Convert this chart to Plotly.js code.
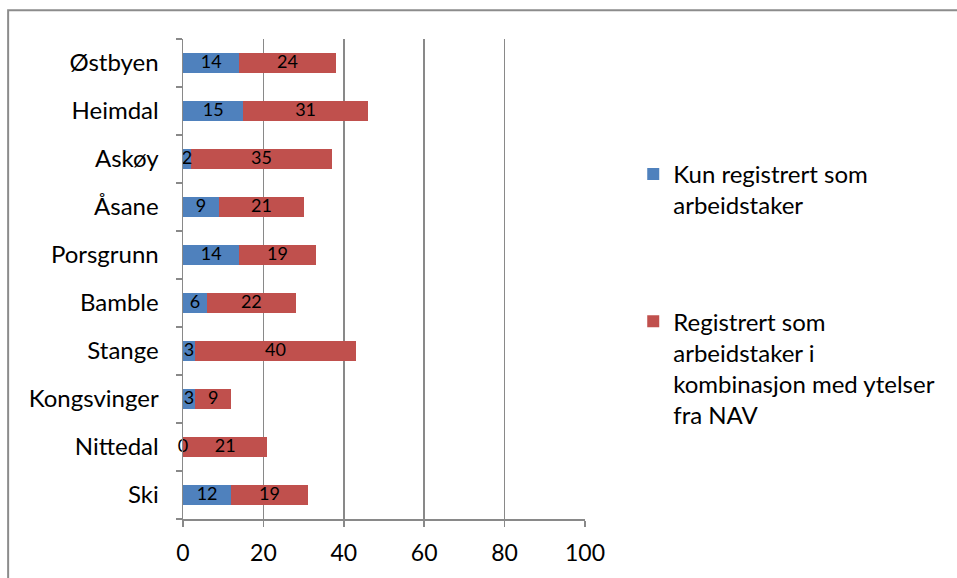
<!DOCTYPE html>
<html>
<head>
<meta charset="utf-8">
<script src="https://cdn.plot.ly/plotly-3.0.1.min.js"></script>
<style>
  html, body { margin: 0; padding: 0; background: #ffffff; }
  #chart { width: 957px; height: 578px; }
</style>
</head>
<body>
<div id="chart"></div>
<script>
// Municipalities, bottom to top
const kommuner = ['Ski', 'Nittedal', 'Kongsvinger', 'Stange', 'Bamble', 'Porsgrunn', 'Åsane', 'Askøy', 'Heimdal', 'Østbyen'];

// Only registered as employee
const kunArbeidstaker = [12, 0, 3, 3, 6, 14, 9, 2, 15, 14];

// Registered as employee combined with NAV benefits
const medYtelser = [19, 21, 9, 40, 22, 19, 21, 35, 31, 24];

const serieNavn = [
  'Kun registrert som<br>arbeidstaker',
  'Registrert som<br>arbeidstaker i<br>kombinasjon med ytelser<br>fra NAV'
];

const xTicks = [0, 20, 40, 60, 80, 100];

const FONT = 'Lato, "Open Sans", sans-serif';
const GREY = '#898989';

// Value labels sit in the middle of each segment
const labelX = [];
const labelY = [];
const labelText = [];
kommuner.forEach((k, i) => {
  labelX.push(kunArbeidstaker[i] / 2);
  labelY.push(k);
  labelText.push(String(kunArbeidstaker[i]));
  labelX.push(kunArbeidstaker[i] + medYtelser[i] / 2);
  labelY.push(k);
  labelText.push(String(medYtelser[i]));
});

const traces = [
  {
    type: 'bar', orientation: 'h',
    y: kommuner, x: kunArbeidstaker,
    name: serieNavn[0], legendgroup: 'a',
    marker: { color: '#4F81BD' },
    hoverinfo: 'skip'
  },
  {
    type: 'bar', orientation: 'h',
    y: kommuner, x: medYtelser,
    name: serieNavn[1], legendgroup: 'b',
    marker: { color: '#C0504D' },
    hoverinfo: 'skip'
  },
  {
    type: 'scatter', mode: 'text',
    x: labelX, y: labelY, text: labelText,
    textposition: 'middle center',
    textfont: { family: FONT, size: 18, color: '#000000' },
    showlegend: false, hoverinfo: 'skip', cliponaxis: false
  }
];

const layout = {
  width: 957, height: 578,
  margin: { l: 183, r: 372, t: 39, b: 59, pad: 0 },
  paper_bgcolor: '#ffffff', plot_bgcolor: '#ffffff',
  barmode: 'stack', bargap: 0.6,
  font: { family: FONT, size: 24, color: '#000000' },
  xaxis: {
    range: [0, 100], tickvals: xTicks, ticktext: xTicks.map(String),
    showgrid: true, gridcolor: GREY, gridwidth: 1.5,
    showline: true, linecolor: GREY, linewidth: 1.5,
    ticks: 'outside', ticklen: 6, tickcolor: GREY, tickwidth: 1.5,
    zeroline: false, fixedrange: true,
    tickfont: { family: FONT, size: 23, color: '#000000' },
    ticklabelstandoff: 7
  },
  yaxis: {
    type: 'category', categoryorder: 'array', categoryarray: kommuner,
    showgrid: false, showline: true, linecolor: GREY, linewidth: 1.5,
    ticks: 'outside', tickson: 'boundaries', ticklen: 6, tickcolor: GREY, tickwidth: 1.5,
    zeroline: false, fixedrange: true,
    tickfont: { family: FONT, size: 24, color: '#000000' },
    ticklabelstandoff: 18
  },
  legend: {
    x: 1.12, xanchor: 'left', y: 0.765, yanchor: 'top',
    traceorder: 'grouped', tracegroupgap: 82, valign: 'top',
    font: { family: FONT, size: 24, color: '#000000' },
    bgcolor: 'rgba(0,0,0,0)'
  },
  shapes: [
    {
      type: 'rect', xref: 'paper', yref: 'paper',
      x0: -0.435, x1: 1.95, y0: -0.3, y1: 1.06,
      line: { color: '#8c8c8c', width: 2 }, fillcolor: 'rgba(0,0,0,0)'
    }
  ]
};

Plotly.newPlot('chart', traces, layout, { displayModeBar: false, staticPlot: true });
</script>
</body>
</html>
